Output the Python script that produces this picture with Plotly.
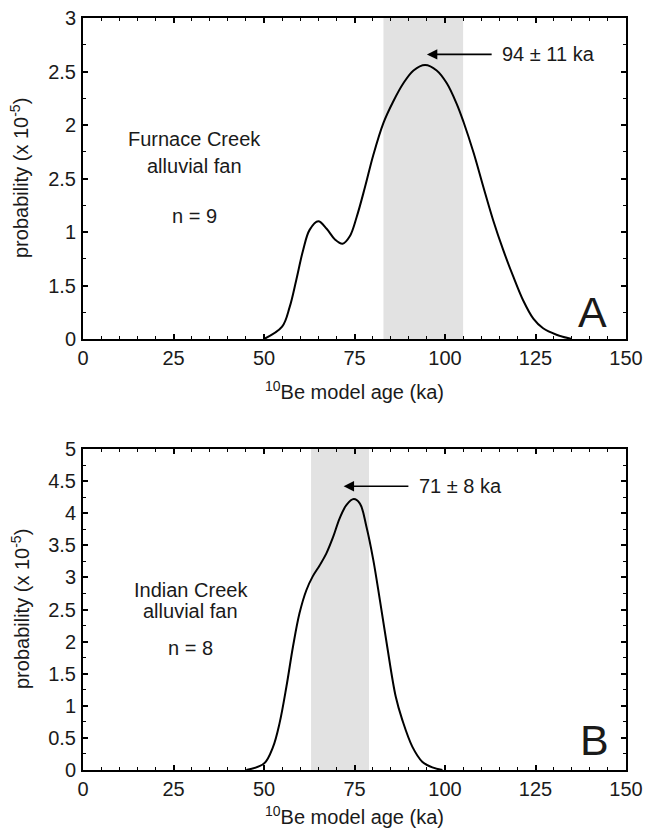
import plotly.graph_objects as go

# ---- data ----
age_a = [50, 55, 57.1, 58.9, 60.8, 62.6, 65, 67.3, 69.6, 71.7, 73.7, 75.6, 77.9, 80.2, 83, 85.7,
         88.5, 91.3, 94.5, 97.7, 100.5, 103.2, 105.1, 107.9, 110.6, 113.3, 116.1, 118.9, 121.6,
         124.4, 127.1, 130.8, 135]
prob_a = [0, 0.115, 0.30, 0.55, 0.83, 1.02, 1.10, 1.03, 0.93, 0.89, 0.96, 1.14, 1.42, 1.72, 2.02,
          2.22, 2.39, 2.51, 2.56, 2.51, 2.39, 2.20, 2.03, 1.74, 1.42, 1.11, 0.83, 0.58, 0.36, 0.19,
          0.10, 0.04, 0.0]

age_b = [45.1, 50, 52.5, 54.3, 56.2, 58.0, 59.8, 61.7, 63.5, 65.4, 67.2, 69.1, 70.9, 72.8, 74.8,
         76.5, 78.3, 80.2, 82.0, 83.9, 86.4, 88.2, 91, 93.7, 96.5, 99.3]
prob_b = [0, 0.10, 0.36, 0.73, 1.30, 1.92, 2.44, 2.80, 3.02, 3.19, 3.37, 3.63, 3.92, 4.13, 4.22,
          4.15, 3.79, 3.27, 2.65, 1.97, 1.14, 0.78, 0.36, 0.13, 0.04, 0]

mean_a, err_a = 94, 11
mean_b, err_b = 71, 8

x_tickvals = [0, 25, 50, 75, 100, 125, 150]
y_tickvals_a = [0, 0.5, 1, 1.5, 2, 2.5, 3]
y_ticktext_a = ["0", "1.5", "1", "2.5", "2", "2.5", "3"]
y_tickvals_b = [0, 0.5, 1, 1.5, 2, 2.5, 3, 3.5, 4, 4.5, 5]
y_ticktext_b = ["0", "0.5", "1", "1.5", "2", "2.5", "3", "3.5", "4", "4.5", "5"]

FONT = "Liberation Sans, Arial, sans-serif"
TXT = "#1a1a1a"
FS = 20

fig = go.Figure()
fig.add_trace(go.Scatter(x=age_a, y=prob_a, mode="lines",
                         line=dict(color="black", width=2, shape="spline", smoothing=1.0),
                         xaxis="x", yaxis="y", showlegend=False))
fig.add_trace(go.Scatter(x=age_b, y=prob_b, mode="lines",
                         line=dict(color="black", width=2, shape="spline", smoothing=1.0),
                         xaxis="x2", yaxis="y2", showlegend=False))

# gray bands (mean +/- error)
fig.add_shape(type="rect", xref="x", yref="y domain", x0=mean_a - err_a, x1=mean_a + err_a, y0=0, y1=1,
              fillcolor="#e2e2e2", line=dict(width=0), layer="below")
fig.add_shape(type="rect", xref="x2", yref="y2 domain", x0=mean_b - err_b, x1=mean_b + err_b, y0=0, y1=1,
              fillcolor="#e2e2e2", line=dict(width=0), layer="below")


def xaxis_cfg(anchor):
    return dict(range=[0, 150], tickvals=x_tickvals, ticks="inside", ticklen=5, tickwidth=1.5,
                tickcolor="black", showline=True, linecolor="black", linewidth=2, mirror="ticks",
                showgrid=False, zeroline=False, anchor=anchor, automargin=False,
                minor=dict(ticks="inside", dtick=5, ticklen=3, tickwidth=1, tickcolor="black", showgrid=False),
                tickfont=dict(family=FONT, size=FS, color=TXT), ticklabelstandoff=0)


def yaxis_cfg(rng, vals, texts, domain, anchor):
    return dict(range=rng, tickvals=vals, ticktext=texts, domain=domain, anchor=anchor,
                ticks="inside", ticklen=5, tickwidth=1.5, tickcolor="black",
                showline=True, linecolor="black", linewidth=2, mirror="ticks",
                showgrid=False, zeroline=False, automargin=False,
                minor=dict(ticks="inside", dtick=0.25, ticklen=3, tickwidth=1, tickcolor="black", showgrid=False),
                tickfont=dict(family=FONT, size=FS, color=TXT), ticklabelstandoff=1)


W, H = 645, 829
ML, MR, MT, MB = 83, 19, 18, 59
PH = H - MT - MB

fig.update_layout(
    width=W, height=H, margin=dict(l=ML, r=MR, t=MT, b=MB),
    plot_bgcolor="white", paper_bgcolor="white",
    xaxis=xaxis_cfg("y"),
    xaxis2=xaxis_cfg("y2"),
    yaxis=yaxis_cfg([0, 3], y_tickvals_a, y_ticktext_a, [(770 - 339) / PH, 1], "x"),
    yaxis2=yaxis_cfg([0, 5], y_tickvals_b, y_ticktext_b, [0, (770 - 449) / PH], "x2"),
)

ann = []
# axis titles
for ypix in (391, 815):
    ann.append(dict(text="<sup>10</sup>Be model age (ka)", xref="paper", yref="paper", x=0.5,
                    y=(770 - ypix) / PH, xanchor="center", yanchor="middle", showarrow=False,
                    font=dict(family=FONT, size=FS, color=TXT)))
for ypix in (178, 609):
    ann.append(dict(text="probability (x 10<sup>-5</sup>)", xref="paper", yref="paper",
                    x=(20 - ML) / (W - ML - MR), y=(770 - ypix) / PH, textangle=-90,
                    xanchor="center", yanchor="middle", showarrow=False,
                    font=dict(family=FONT, size=FS, color=TXT)))


def txt(t, x, y, xr, yr, size=FS, xanchor="center"):
    return dict(text=t, x=x, y=y, xref=xr, yref=yr, xanchor=xanchor, yanchor="middle",
                showarrow=False, font=dict(family=FONT, size=size, color=TXT))


ann += [
    txt("Furnace Creek", 30.7, 1.87, "x", "y"),
    txt("alluvial fan", 30.7, 1.62, "x", "y"),
    txt("n = 9", 30.7, 1.15, "x", "y"),
    txt("Indian Creek", 29.8, 2.80, "x2", "y2"),
    txt("alluvial fan", 29.8, 2.48, "x2", "y2"),
    txt("n = 8", 29.8, 1.90, "x2", "y2"),
    txt("A", 140.7, 0.25, "x", "y", size=43),
    txt("B", 141.2, 0.46, "x2", "y2", size=43),
    txt(f"{mean_a} ± {err_a} ka", 115.2, 2.66, "x", "y", xanchor="left"),
    txt(f"{mean_b} ± {err_b} ka", 92.2, 4.42, "x2", "y2", xanchor="left"),
]
# arrows
ann.append(dict(text="", x=95, y=2.66, xref="x", yref="y", ax=113.3, ay=2.66, axref="x", ayref="y",
                showarrow=True, arrowhead=2, arrowsize=1.3, arrowwidth=1.6, arrowcolor="black"))
ann.append(dict(text="", x=72, y=4.42, xref="x2", yref="y2", ax=90.3, ay=4.42, axref="x2", ayref="y2",
                showarrow=True, arrowhead=2, arrowsize=1.3, arrowwidth=1.6, arrowcolor="black"))

fig.update_layout(annotations=ann)
fig.write_html("out.html", config={"displayModeBar": False},
               post_script="document.body.style.margin='0';document.body.style.overflow='hidden';")
